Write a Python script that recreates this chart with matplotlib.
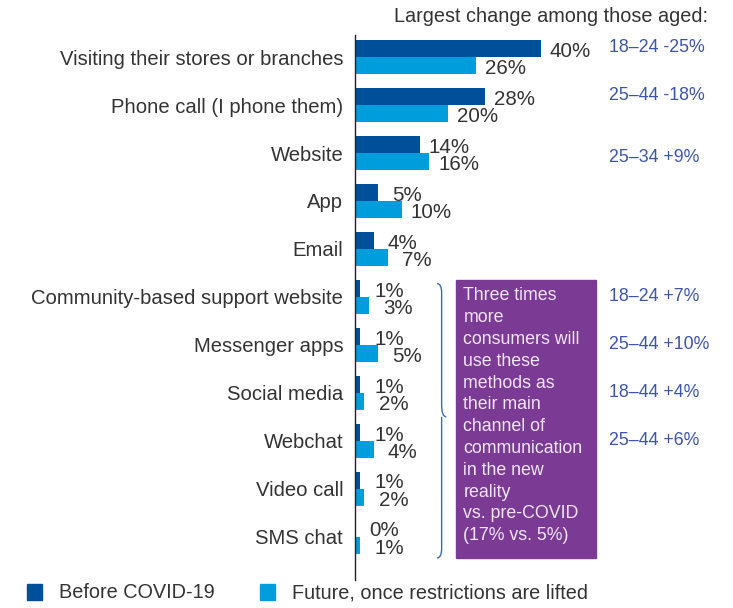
import numpy as np
import matplotlib
matplotlib.use("Agg")
import matplotlib.pyplot as plt
from matplotlib.patches import Patch, Rectangle
from matplotlib.path import Path
from matplotlib.patches import PathPatch

plt.rcParams['font.family'] = ['Liberation Sans', 'DejaVu Sans']

# data
categories = ["Visiting their stores or branches", "Phone call (I phone them)", "Website",
              "App", "Email", "Community-based support website", "Messenger apps",
              "Social media", "Webchat", "Video call", "SMS chat"]
before = [40, 28, 14, 5, 4, 1, 1, 1, 1, 1, 0]
future = [26, 20, 16, 10, 7, 3, 5, 2, 4, 2, 1]
change_labels = ["18\u201324 -25%", "25\u201344 -18%", "25\u201334 +9%",
                 "18\u201324 +7%", "25\u201344 +10%", "18\u201344 +4%", "25\u201344 +6%"]
change_rows = [-0.2, 0.8, 2.1, 5, 6, 7, 8]
box_text = ("Three times\nmore\nconsumers will\nuse these\nmethods as\ntheir main\n"
            "channel of\ncommunication\nin the new\nreality\nvs. pre-COVID\n(17% vs. 5%)")

dark = '#004f9a'
light = '#009ddc'
purple = '#7b3b94'
txt = '#333333'
blue_txt = '#3c56a6'

W, H = 733, 608
fig = plt.figure(figsize=(W / 100, H / 100), dpi=100)
ax_left, ax_top, ax_bot = 355, 35, 580
ax = fig.add_axes([ax_left / W, 1 - ax_bot / H, (W - ax_left) / W, (ax_bot - ax_top) / H])

y = np.arange(len(categories))
h = 0.35
ax.barh(y - 0.18, before, height=h, color=dark)
ax.barh(y + 0.18, future, height=h, color=light)

ax.set_xlim(0, (W - ax_left) / 4.65)
ax.set_ylim(10.9, -0.46)
for s in ['top', 'right', 'bottom']:
    ax.spines[s].set_visible(False)
ax.spines['left'].set_color('#222222')
ax.spines['left'].set_linewidth(1.0)
ax.set_xticks([])
ax.set_yticks(y)
ax.set_yticklabels(categories, fontsize=14.6, color=txt)
ax.tick_params(axis='y', length=0, pad=8.5)

for i in range(len(categories)):
    for val, off in ((before[i], -0.18), (future[i], 0.18)):
        ax.annotate(f"{val}%", (val, i + off), xytext=(21, -2), textcoords='offset points',
                    va='center', ha='center', fontsize=14.8, color=txt)

for lab, r in zip(change_labels, change_rows):
    ax.text(54.6, r, lab, fontsize=12.8, color=blue_txt, va='center', ha='left')

# purple box
bx0, bx1 = (456 - ax_left) / 4.65, (596 - ax_left) / 4.65
ax.add_patch(Rectangle((bx0, 4.65), bx1 - bx0, 10.45 - 4.65, color=purple, clip_on=False))
ax.text(bx0 + 1.6, 4.8, box_text, fontsize=12.8, color='#eee6f3', va='top', ha='left',
        linespacing=1.37)

# brace
x0 = (437 - ax_left) / 4.65
xw = 2.0
yt, ym, yb = 4.72, 7.5, 10.44
verts = [(x0, yt), (x0 + xw * 0.5, yt), (x0 + xw * 0.5, yt + 0.2), (x0 + xw * 0.5, yt + 0.4),
         (x0 + xw * 0.5, ym - 0.25),
         (x0 + xw * 0.5, ym), (x0 + xw, ym),
         (x0 + xw * 0.5, ym), (x0 + xw * 0.5, ym + 0.25),
         (x0 + xw * 0.5, yb - 0.4),
         (x0 + xw * 0.5, yb - 0.2), (x0 + xw * 0.5, yb), (x0, yb)]
codes = [Path.MOVETO, Path.CURVE3, Path.CURVE3, Path.LINETO, Path.LINETO,
         Path.CURVE3, Path.CURVE3, Path.MOVETO, Path.CURVE3, Path.LINETO,
         Path.LINETO, Path.CURVE3, Path.CURVE3]
ax.add_patch(PathPatch(Path(verts, codes), fill=False, edgecolor='#3a6db0', lw=1.0, clip_on=False))

fig.text(708 / W, 1 - 17 / H, "Largest change among those aged:", fontsize=14.3, color=txt,
         ha='right', va='center')

handles = [Patch(color=dark, label="Before COVID-19"),
           Patch(color=light, label="Future, once restrictions are lifted")]
fig.legend(handles=handles, loc='center left', bbox_to_anchor=(27 / W, 1 - 593 / H), ncol=2,
           frameon=False, fontsize=14.3, handlelength=0.75, handleheight=0.85,
           handletextpad=0.85, columnspacing=2.3, labelcolor=txt, borderaxespad=0,
           borderpad=0)

fig.savefig("out.png", dpi=100)
